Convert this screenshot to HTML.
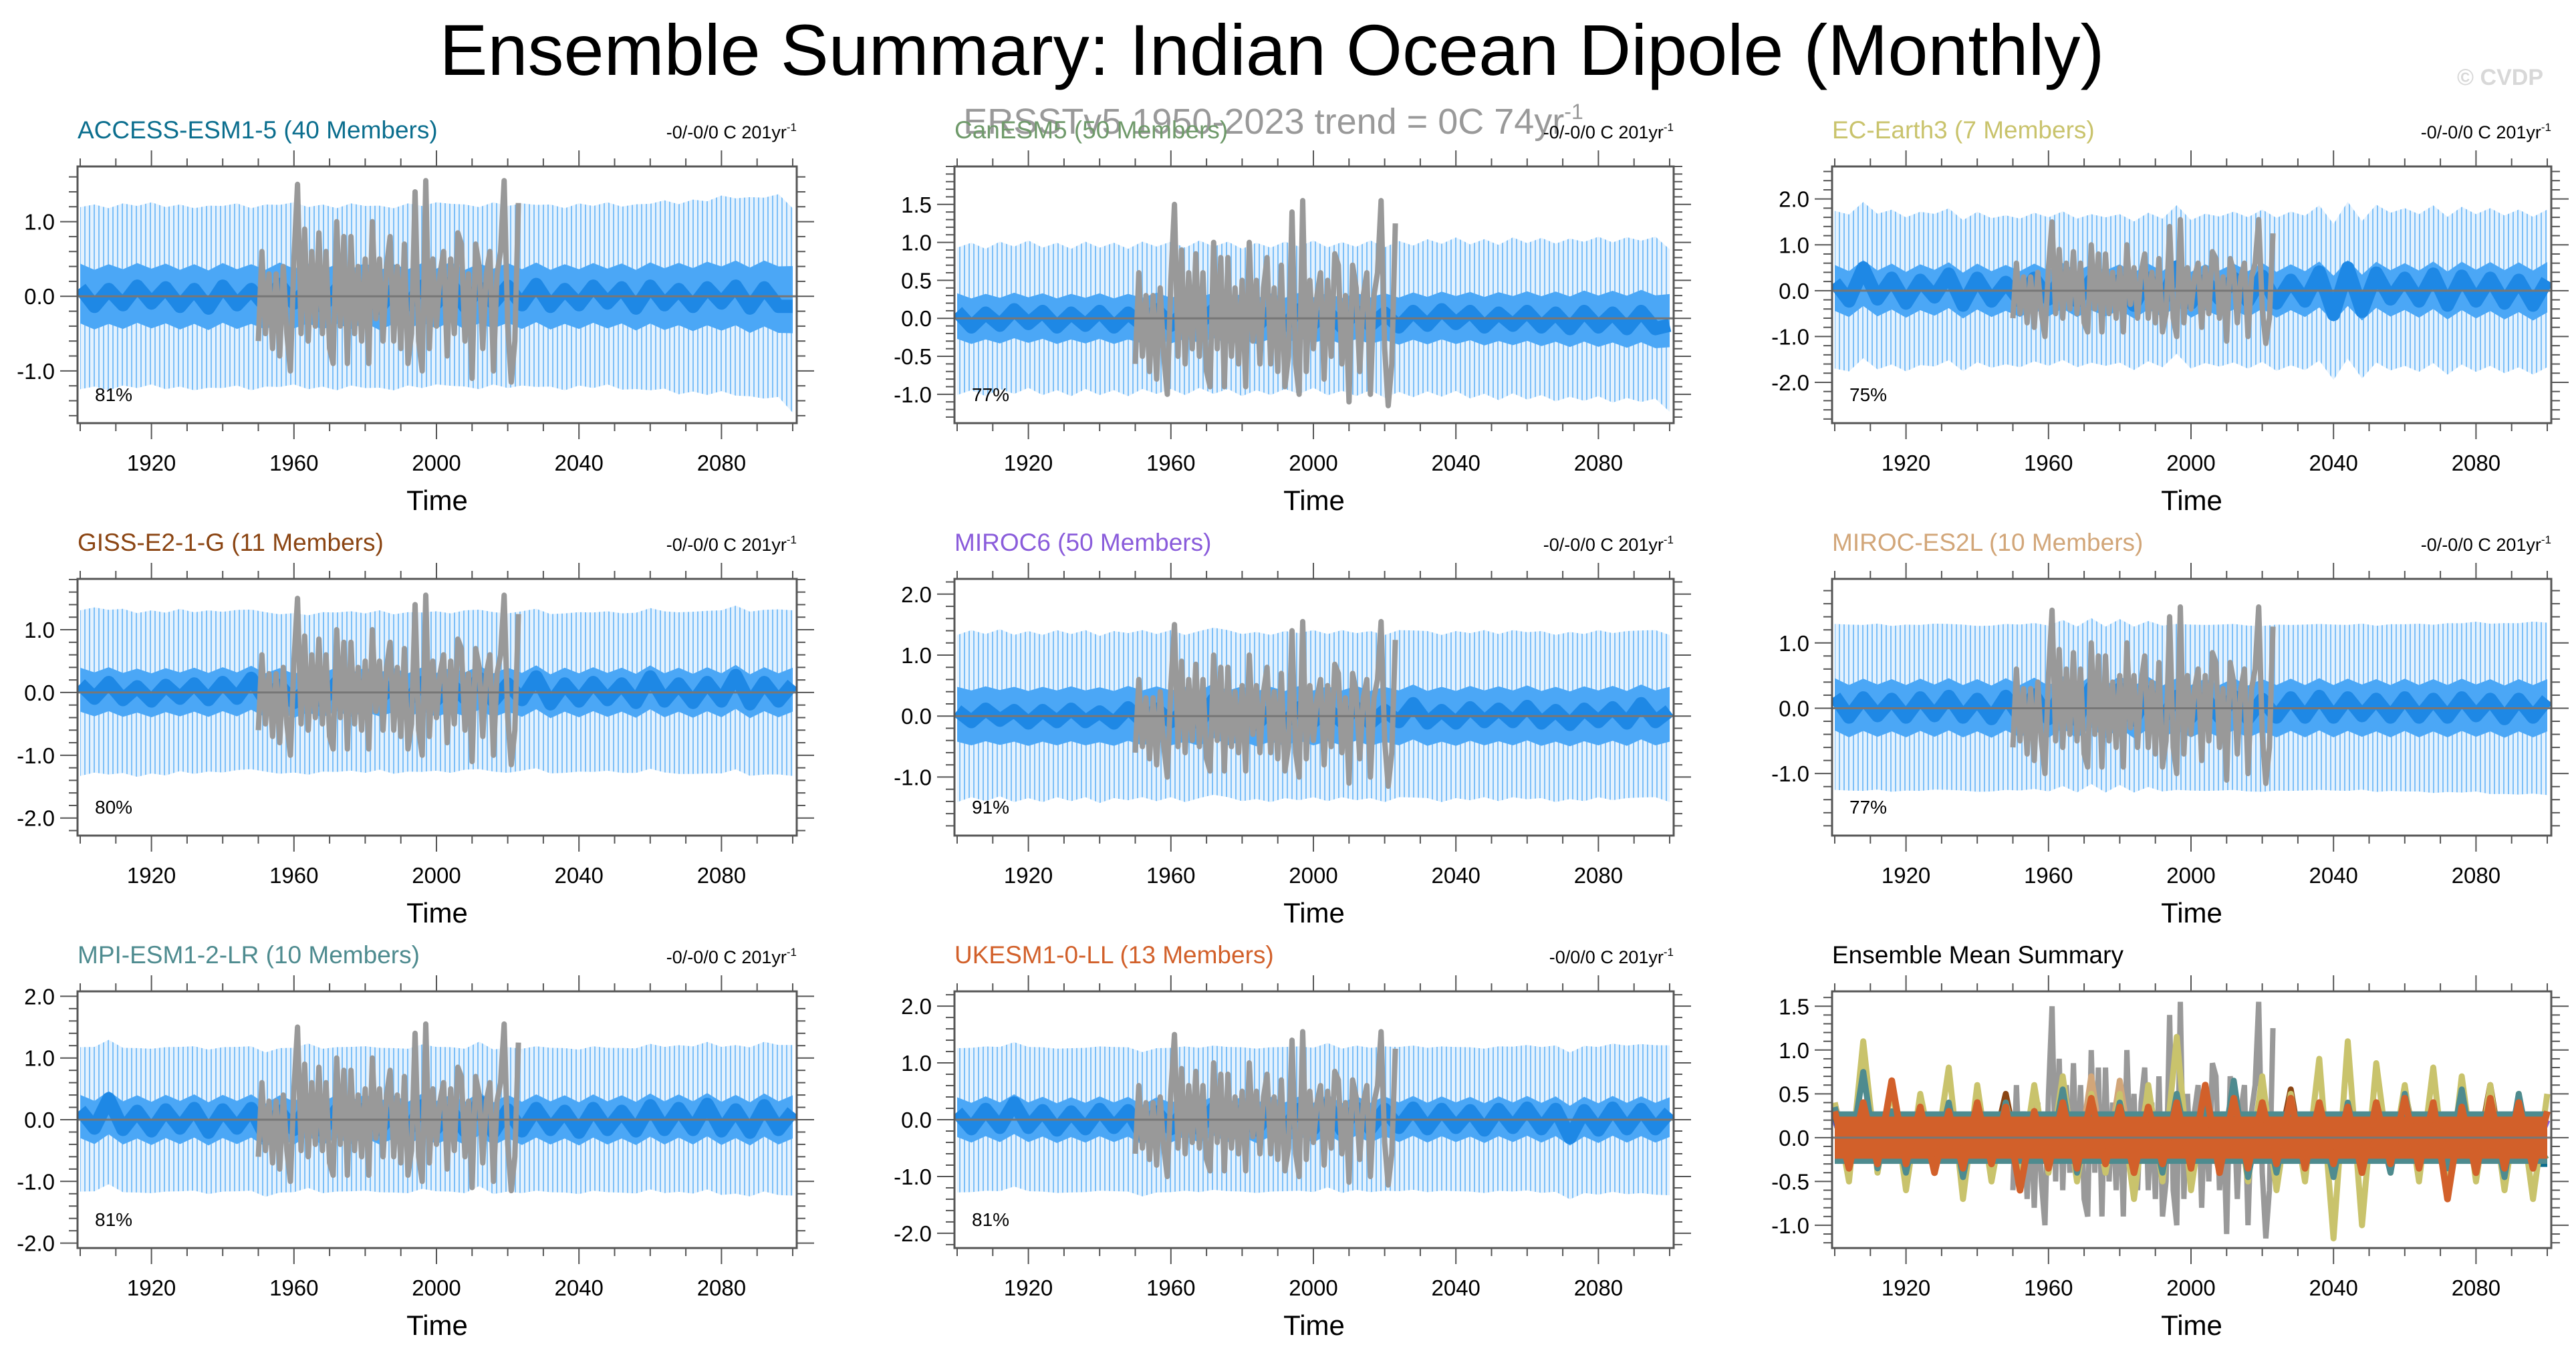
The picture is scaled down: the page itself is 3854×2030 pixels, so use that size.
<!DOCTYPE html>
<html><head><meta charset="utf-8"><style>
html,body{margin:0;padding:0;background:#fff}
svg{display:block;font-family:"Liberation Sans",sans-serif}
</style></head><body>
<svg id="chart" width="3854" height="2030" viewBox="0 0 3854 2030" xmlns="http://www.w3.org/2000/svg">
<defs>
<pattern id="hair" patternUnits="userSpaceOnUse" width="7" height="40">
<rect width="7" height="40" fill="#e4f2fe"/>
<rect x="0" width="2" height="40" fill="#7cbff8"/>
</pattern>
</defs>
<rect width="3854" height="2030" fill="#fff"/>
<text x="1903" y="112" font-size="108" text-anchor="middle" fill="#000">Ensemble Summary: Indian Ocean Dipole (Monthly)</text>
<text x="1905" y="200" font-size="54" text-anchor="middle" fill="#999">ERSSTv5 1950-2023 trend = 0C 74yr<tspan dy="-22" font-size="32">-1</tspan></text>
<text x="3805" y="127" font-size="34" font-weight="bold" text-anchor="end" fill="#d8d8d8">© CVDP</text>
<g id="panels"></g>
</svg>
<script>
// ---- data ----
const obsYears0 = 1950;
const obsVals = [-0.6,0.6,-0.5,0.3,-0.7,0.3,-0.8,0.4,-0.5,-1.0,0.5,1.5,-0.5,0.9,-0.6,0.6,-0.4,0.85,-0.5,0.6,-0.7,-0.9,1.0,-0.4,0.8,-0.9,0.8,-0.5,0.4,-0.6,0.5,-0.9,1.0,-0.3,0.5,-0.6,0.4,0.8,-0.6,0.4,-0.7,0.7,-0.9,-0.5,1.4,-0.6,-1.0,1.55,-0.7,0.5,-0.4,0.3,0.6,-0.8,0.5,-0.5,0.85,0.7,-0.6,0.3,-1.1,0.7,0.4,-0.7,0.3,0.6,-1.0,0.3,0.6,1.55,-0.4,-1.15,-0.6,1.25];
const modelNames = ["ACCESS-ESM1-5 (40 Members)","CanESM5 (50 Members)","EC-Earth3 (7 Members)","GISS-E2-1-G (11 Members)","MIROC6 (50 Members)","MIROC-ES2L (10 Members)","MPI-ESM1-2-LR (10 Members)","UKESM1-0-LL (13 Members)"];
const percents = ["81%","77%","75%","80%","91%","77%","81%","81%"];
// ensemble means, 1900-2100 every 4 years
const meanAccess = [0.25,-0.3,0.2,-0.25,0.3,-0.2,0.25,-0.3,0.2,-0.35,0.3,-0.25,0.2,-0.3,0.35,-0.2,0.25,-0.3,0.2,-0.25,0.3,-0.35,0.2,-0.25,0.3,-0.2,0.4,-0.3,0.25,-0.2,0.3,-0.25,0.35,-0.3,0.2,-0.25,0.3,-0.2,0.25,-0.35,0.3,-0.25,0.2,-0.3,0.25,-0.2,0.3,-0.35,0.25,-0.3,-0.3];
const meanCan = [0.2,-0.25,0.15,-0.2,0.25,-0.15,0.2,-0.25,0.15,-0.2,0.2,-0.25,0.15,-0.2,0.25,-0.2,0.2,-0.15,0.25,-0.2,0.15,-0.25,0.2,-0.2,0.25,-0.15,0.2,-0.25,0.2,-0.2,0.15,-0.25,0.2,-0.2,0.25,-0.15,0.2,-0.25,0.15,-0.2,0.2,-0.25,0.15,-0.3,0.2,-0.25,0.15,-0.3,0.2,-0.3,-0.2];
const meanEC = [0.4,-0.5,1.1,-0.4,0.6,-0.6,0.5,-0.3,0.8,-0.7,0.6,-0.5,0.4,-0.5,0.6,-0.4,0.7,-0.5,0.5,-0.4,0.5,-0.7,0.6,-0.5,1.15,-0.6,0.5,-0.4,0.6,-0.5,0.7,-0.6,0.5,-0.5,0.9,-1.15,1.1,-1.0,0.85,-0.4,0.6,-0.5,0.8,-0.7,0.7,-0.5,0.6,-0.6,0.5,-0.7,0.5];
const meanGISS = [0.3,-0.2,0.35,-0.25,0.2,-0.3,0.25,-0.2,0.3,-0.25,0.35,-0.2,0.5,-0.3,0.25,-0.35,0.2,-0.3,0.35,-0.25,0.3,-0.2,0.25,-0.3,0.35,-0.25,0.3,-0.2,0.5,-0.3,0.3,-0.25,0.55,-0.4,0.3,-0.3,0.35,-0.25,0.3,-0.35,0.55,-0.3,0.3,-0.35,0.35,-0.3,0.6,-0.4,0.35,-0.3,0.3];
const meanMIROC6 = [0.2,-0.2,0.25,-0.15,0.2,-0.25,0.2,-0.2,0.25,-0.2,0.15,-0.25,0.3,-0.2,0.25,-0.2,0.2,-0.25,0.6,-0.2,0.25,-0.3,0.2,-0.25,0.3,-0.2,0.25,-0.2,0.3,-0.25,0.2,-0.2,0.45,-0.25,0.2,-0.25,0.3,-0.2,0.25,-0.2,0.35,-0.25,0.2,-0.3,0.25,-0.2,0.3,-0.25,0.45,-0.2,0.2];
const meanES2L = [0.4,-0.3,0.35,-0.25,0.3,-0.3,0.35,-0.25,0.4,-0.3,0.3,-0.35,0.4,-0.3,0.45,-0.35,0.6,-0.4,0.7,-0.4,0.65,-0.4,0.55,-0.35,0.4,-0.3,0.35,-0.3,0.4,-0.35,0.3,-0.3,0.35,-0.3,0.4,-0.3,0.35,-0.25,0.3,-0.3,0.35,-0.3,0.3,-0.3,0.35,-0.25,0.3,-0.35,0.3,-0.3,0.3];
const meanMPI = [0.35,-0.3,0.75,-0.35,0.3,-0.4,0.35,-0.3,0.4,-0.45,0.35,-0.3,0.4,-0.6,0.3,-0.35,0.55,-0.4,0.35,-0.3,0.4,-0.35,0.3,-0.4,0.5,-0.3,0.35,-0.4,0.65,-0.45,0.35,-0.4,0.4,-0.35,0.3,-0.45,0.4,-0.35,0.3,-0.4,0.5,-0.35,0.4,-0.35,0.55,-0.4,0.35,-0.45,0.5,-0.35,0.3];
const meanUK = [0.3,-0.35,0.4,-0.3,0.65,-0.3,0.35,-0.4,0.3,-0.35,0.4,-0.3,0.35,-0.6,0.3,-0.35,0.4,-0.35,0.45,-0.3,0.35,-0.4,0.35,-0.3,0.4,-0.35,0.6,-0.4,0.45,-0.35,0.4,-0.3,0.45,-0.35,0.4,-0.3,0.35,-0.4,0.4,-0.3,0.45,-0.35,0.4,-0.7,0.35,-0.4,0.45,-0.35,0.4,-0.35,0.3];
// member spread half-widths at 1900,1950,2000,2050,2100
const outerW = [[1.2,1.2,1.2,1.2,1.35],[0.95,0.95,0.95,1.0,1.05],[1.7,1.6,1.6,1.7,1.7],[1.3,1.25,1.25,1.25,1.3],[1.35,1.35,1.35,1.35,1.35],[1.25,1.25,1.25,1.25,1.3],[1.15,1.15,1.15,1.15,1.2],[1.25,1.25,1.25,1.25,1.3]];
const innerW = [[0.4,0.4,0.4,0.4,0.45],[0.3,0.3,0.3,0.32,0.35],[0.5,0.5,0.5,0.5,0.55],[0.35,0.35,0.35,0.35,0.35],[0.45,0.45,0.45,0.45,0.45],[0.4,0.4,0.4,0.4,0.4],[0.35,0.35,0.35,0.35,0.35],[0.35,0.35,0.35,0.35,0.35]];
// summary dense-band half-widths (model spread of ensemble means)
const summaryBand = [0.3,0.3,0.3,0.3,0.3];
const yRanges = [[-1.7,1.74],[-1.38,2.0],[-2.89,2.71],[-2.28,1.81],[-1.96,2.25],[-1.95,1.98],[-2.08,2.08],[-2.26,2.26],[-1.26,1.67]];
const yMajor = [[-1,0,1],[-1,-0.5,0,0.5,1,1.5],[-2,-1,0,1,2],[-2,-1,0,1],[-1,0,1,2],[-1,0,1],[-2,-1,0,1,2],[-2,-1,0,1,2],[-1,-0.5,0,0.5,1,1.5]];
const xMajor = [1920,1960,2000,2040,2080];
// ---- layout ----
const means = [meanAccess,meanCan,meanEC,meanGISS,meanMIROC6,meanES2L,meanMPI,meanUK];
const titleColors = ["#0b6e8e","#6f9a6a","#c9c36c","#8b4513","#8a5cdb","#d2a679","#4e8b8f","#d2602a"];
const colX = [116,1428,2741], rowY = [249,866,1483], PW = 1076, PH = 384;
const NS = "http://www.w3.org/2000/svg";
const root = document.getElementById('panels');
function mk(tag, attrs, parent){const e=document.createElementNS(NS,tag);for(const k in attrs)e.setAttribute(k,attrs[k]);(parent||root).appendChild(e);return e;}
function interp(arr, yr){const t=(yr-1900)/50;const i=Math.min(Math.floor(t),arr.length-2);const f=t-i;return arr[i]*(1-f)+arr[i+1]*f;}

for(let p=0;p<9;p++){
  const x0=colX[p%3], y0=rowY[Math.floor(p/3)];
  const [ymin,ymax]=yRanges[p];
  const xs=yr=>x0+4+(yr-1900)/200*(PW-10);
  const ys=v=>y0+(ymax-v)/(ymax-ymin)*PH;
  const g=mk('g',{});
  
  
  const clipId='clip'+p;
  const cp=mk('clipPath',{id:clipId},g);mk('rect',{x:x0,y:y0,width:PW,height:PH},cp);
  const plot=mk('g',{'clip-path':'url(#'+clipId+')'},g);
  if(p<8){
    const m=means[p];
    let up=[],dn=[],iu=[],idn=[];
    for(let i=0;i<m.length;i++){
      const yr=1900+i*4; const c=m[i]*0.3;
      up.push(xs(yr)+','+ys(c+interp(outerW[p],yr)+(i%2?0.12:-0.08)));
      dn.unshift(xs(yr)+','+ys(c-interp(outerW[p],yr)-(i%2?-0.08:0.12)));
      iu.push(xs(yr)+','+ys(c*0.5+interp(innerW[p],yr)));
      idn.unshift(xs(yr)+','+ys(c*0.5-interp(innerW[p],yr)));
    }
    const ob=mk('polygon',{points:up.concat(dn).join(' '),fill:'url(#hair)'},plot);
    
    
    const ib=mk('polygon',{points:iu.concat(idn).join(' '),fill:'#4ba7f6'},plot);
    
    
    const ml=mk('polyline',{points:m.map((v,i)=>xs(1900+i*4)+','+ys(v*0.45)).join(' '),fill:'none',stroke:'#1e88e5','stroke-width':20,'stroke-linejoin':'round'},plot);
    
    
    const ol=mk('polyline',{points:obsVals.map((v,i)=>xs(obsYears0+i)+','+ys(v)).join(' '),fill:'none',stroke:'#999','stroke-width':8,'stroke-linejoin':'round'},plot);
    
    
  } else {
    const order=[1,3,4,0,5,2,6,7];
    const ol=mk('polyline',{points:obsVals.map((v,i)=>xs(obsYears0+i)+','+ys(v)).join(' '),fill:'none',stroke:'#999','stroke-width':8},plot);
    
    
    for(const k of order){
      const l=mk('polyline',{points:means[k].map((v,i)=>xs(1900+i*4)+','+ys(v)).join(' '),fill:'none',stroke:titleColors[k],'stroke-width':9,'stroke-linejoin':'round'},plot);
      
      
    }
    let bu=[],bd=[];
    for(let yr=1900;yr<=2100;yr+=4){bu.push(xs(yr)+','+ys(interp(summaryBand,yr)));bd.unshift(xs(yr)+','+ys(-interp(summaryBand,yr)));}
    const tb=mk('polygon',{points:bu.concat(bd).join(' '),fill:'#4e8b8f'},plot);
    
    
    let cu=[],cd=[];
    for(let yr=1900;yr<=2100;yr+=4){cu.push(xs(yr)+','+ys(interp(summaryBand,yr)*0.8));cd.unshift(xs(yr)+','+ys(-interp(summaryBand,yr)*0.8));}
    const obd=mk('polygon',{points:cu.concat(cd).join(' '),fill:'#d2602a'},plot);
    
    
    const uk=mk('polyline',{points:meanUK.map((v,i)=>xs(1900+i*4)+','+ys(v)).join(' '),fill:'none',stroke:'#d2602a','stroke-width':10,'stroke-linejoin':'round'},plot);
    
    
  }
  mk('line',{x1:x0,x2:x0+PW,y1:ys(0),y2:ys(0),stroke:'#777','stroke-width':3},g);
  mk('rect',{x:x0,y:y0,width:PW,height:PH,fill:'none',stroke:'#555','stroke-width':3},g);
  for(let yr=1900;yr<=2100;yr+=10){
    const maj=xMajor.includes(yr); const L=maj?24:12; const X=xs(yr);
    mk('line',{x1:X,x2:X,y1:y0,y2:y0-L,stroke:'#555','stroke-width':2},g);
    mk('line',{x1:X,x2:X,y1:y0+PH,y2:y0+PH+L,stroke:'#555','stroke-width':2},g);
  }
  xMajor.forEach(yr=>{const t=mk('text',{x:xs(yr),y:y0+PH+71,'font-size':33,'text-anchor':'middle'},g);t.textContent=yr;
    
    });
  const tt=mk('text',{x:x0+PW/2,y:y0+PH+130,'font-size':42,'text-anchor':'middle'},g);tt.textContent='Time';
  
  
  const maj=yMajor[p]; const step=(maj[1]-maj[0])/5;
  for(let v=Math.ceil(ymin/step)*step; v<=ymax+1e-9; v+=step){
    const isMaj=maj.some(m=>Math.abs(m-v)<1e-6); const L=isMaj?26:13; const Y=ys(v);
    mk('line',{x1:x0,x2:x0-L,y1:Y,y2:Y,stroke:'#555','stroke-width':2},g);
    mk('line',{x1:x0+PW,x2:x0+PW+L,y1:Y,y2:Y,stroke:'#555','stroke-width':2},g);
  }
  maj.forEach(v=>{const t=mk('text',{x:x0-34,y:ys(v)+12,'font-size':33,'text-anchor':'end'},g);t.textContent=v.toFixed(1);
    
    });
  const ti=mk('text',{x:x0,y:y0-42,'font-size':37,fill:p<8?titleColors[p]:'#000'},g);ti.textContent=p<8?modelNames[p]:'Ensemble Mean Summary';
  
  
  if(p<8){
    const tr=mk('text',{x:x0+PW,y:y0-42,'font-size':27,'text-anchor':'end'},g);
    tr.innerHTML=(p===7?'-0/0/0 C 201yr':'-0/-0/0 C 201yr')+'<tspan dy="-11" font-size="17">-1</tspan>';
    
    
    const pc=mk('text',{x:x0+26,y:y0+PH-33,'font-size':28},g);pc.textContent=percents[p];
    
    
  }
}
</script>
</body></html>
